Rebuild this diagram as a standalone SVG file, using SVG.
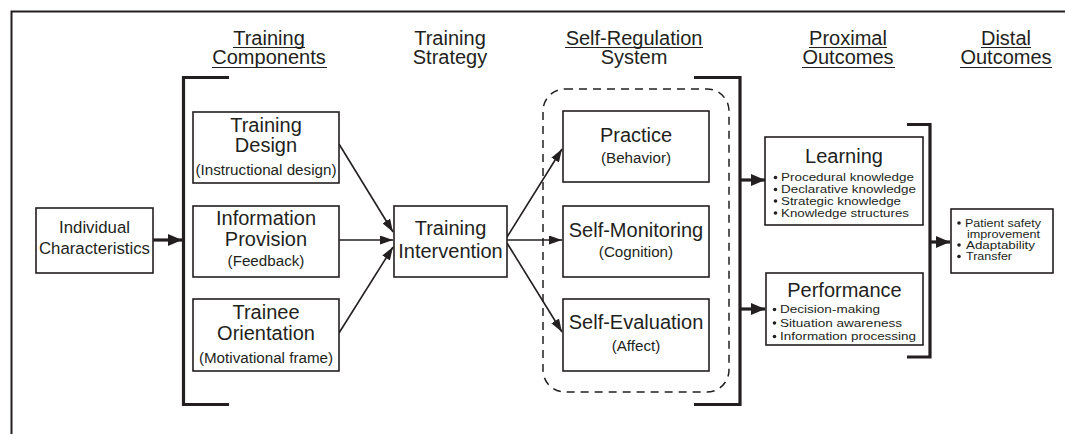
<svg xmlns="http://www.w3.org/2000/svg" width="1065" height="434" viewBox="0 0 1065 434">
<defs>
<style>
text{font-family:"Liberation Sans",Arial,sans-serif;fill:#231f20;text-anchor:middle}
.h{font-size:20px}
.t{font-size:20px}
.s{font-size:15.2px}
.b{font-size:10.6px;text-anchor:start}
.d{font-size:10px;text-anchor:start}
.box{fill:#fff;stroke:#231f20;stroke-width:1.6}
.ul{stroke:#231f20;stroke-width:1.2}
.br{fill:none;stroke:#231f20;stroke-width:3.2}
.ar{fill:none;stroke:#231f20;stroke-width:1.6;marker-end:url(#ah)}
.ak{fill:none;stroke:#231f20;stroke-width:3.2;marker-end:url(#ak)}
.dot{fill:#231f20}
</style>
<marker id="ah" markerUnits="userSpaceOnUse" markerWidth="13" markerHeight="9" refX="13" refY="4.5" orient="auto"><path d="M0,0 L13,4.5 L0,9 z" fill="#231f20"/></marker>
<marker id="ak" markerUnits="userSpaceOnUse" markerWidth="14" markerHeight="12" refX="14" refY="6" orient="auto"><path d="M0,0 L14,6 L0,12 z" fill="#231f20"/></marker>
</defs>
<rect width="1065" height="434" fill="#fff"/>
<path d="M11.5,434 V11.5 H1065" fill="none" stroke="#231f20" stroke-width="2"/>

<g id="headers">
<text class="h" x="269" y="45">Training</text>
<text class="h" x="269" y="64">Components</text>
<line class="ul" x1="233" y1="47.5" x2="305" y2="47.5"/>
<line class="ul" x1="212" y1="67.5" x2="327" y2="67.5"/>
<text class="h" x="450" y="45">Training</text>
<text class="h" x="450" y="64">Strategy</text>
<text class="h" x="634" y="45">Self-Regulation</text>
<text class="h" x="634" y="64">System</text>
<line class="ul" x1="565" y1="47.5" x2="703" y2="47.5"/>
<text class="h" x="848" y="45">Proximal</text>
<text class="h" x="848" y="64">Outcomes</text>
<line class="ul" x1="809" y1="47.5" x2="887" y2="47.5"/>
<line class="ul" x1="802" y1="67.5" x2="895" y2="67.5"/>
<text class="h" x="1006" y="45">Distal</text>
<text class="h" x="1006" y="64">Outcomes</text>
<line class="ul" x1="981" y1="47.5" x2="1031" y2="47.5"/>
<line class="ul" x1="960" y1="67.5" x2="1052" y2="67.5"/>
</g>

<g id="brackets">
<path class="br" d="M229,77.5 H183.5 V404.5 H229"/>
<path class="br" d="M694,77.5 H740 V404.5 H694"/>
<path class="br" d="M907,124.5 H930 V357 H907"/>
<rect x="543" y="89" width="186" height="303" rx="22" fill="none" stroke="#231f20" stroke-width="1.5" stroke-dasharray="8,6"/>
</g>

<g id="connectors">
<path class="ak" d="M153,240 H182"/>
<path class="ar" d="M339,144 L393,232"/>
<path class="ar" d="M339,240 L393,240"/>
<path class="ar" d="M339,333 L393,247"/>
<path class="ar" d="M507,237 L562,149"/>
<path class="ar" d="M507,240 L562,240"/>
<path class="ar" d="M507,243 L562,332"/>
<path class="ak" d="M741,180 H765"/>
<path class="ak" d="M741,309 H765"/>
<path class="ak" d="M931,242 H950"/>
</g>

<g id="individual">
<rect class="box" x="36" y="208" width="117" height="65"/>
<text class="s" x="94.5" y="233" style="font-size:16.8px">Individual</text>
<text class="s" x="94.5" y="254" style="font-size:16.8px">Characteristics</text>
</g>

<g id="training-design">
<rect class="box" x="193" y="112" width="146" height="71"/>
<text class="t" x="266" y="132">Training</text>
<text class="t" x="266" y="152">Design</text>
<text class="s" x="266" y="175">(Instructional design)</text>
</g>

<g id="information-provision">
<rect class="box" x="193" y="206" width="146" height="71"/>
<text class="t" x="266" y="225">Information</text>
<text class="t" x="266" y="246">Provision</text>
<text class="s" x="266" y="266">(Feedback)</text>
</g>

<g id="trainee-orientation">
<rect class="box" x="193" y="299" width="146" height="72"/>
<text class="t" x="266" y="319">Trainee</text>
<text class="t" x="266" y="340">Orientation</text>
<text class="s" x="266" y="363">(Motivational frame)</text>
</g>

<g id="training-intervention">
<rect class="box" x="394" y="206" width="113" height="71"/>
<text class="t" x="450.5" y="235">Training</text>
<text class="t" x="450.5" y="258">Intervention</text>
</g>

<g id="practice">
<rect class="box" x="563" y="111" width="146" height="71"/>
<text class="t" x="636" y="142">Practice</text>
<text class="s" x="636" y="163">(Behavior)</text>
</g>

<g id="self-monitoring">
<rect class="box" x="563" y="206" width="146" height="71"/>
<text class="t" x="636" y="237">Self-Monitoring</text>
<text class="s" x="636" y="257">(Cognition)</text>
</g>

<g id="self-evaluation">
<rect class="box" x="563" y="299" width="146" height="72"/>
<text class="t" x="636" y="329">Self-Evaluation</text>
<text class="s" x="636" y="351">(Affect)</text>
</g>

<g id="learning">
<rect class="box" x="765" y="137" width="158" height="88"/>
<text class="t" x="844" y="163">Learning</text>
<circle class="dot" cx="775.5" cy="177.5" r="1.8"/>
<text class="b" x="781" y="181" textLength="133" lengthAdjust="spacingAndGlyphs">Procedural knowledge</text>
<circle class="dot" cx="775.5" cy="189.5" r="1.8"/>
<text class="b" x="781" y="193" textLength="135" lengthAdjust="spacingAndGlyphs">Declarative knowledge</text>
<circle class="dot" cx="775.5" cy="201" r="1.8"/>
<text class="b" x="781" y="204.5" textLength="120" lengthAdjust="spacingAndGlyphs">Strategic knowledge</text>
<circle class="dot" cx="775.5" cy="213" r="1.8"/>
<text class="b" x="781" y="216.5" textLength="128" lengthAdjust="spacingAndGlyphs">Knowledge structures</text>
</g>

<g id="performance">
<rect class="box" x="766" y="273" width="157" height="72"/>
<text class="t" x="844.5" y="297">Performance</text>
<circle class="dot" cx="774.5" cy="309.5" r="1.8"/>
<text class="b" x="780" y="313" textLength="100" lengthAdjust="spacingAndGlyphs">Decision-making</text>
<circle class="dot" cx="774.5" cy="323" r="1.8"/>
<text class="b" x="780" y="326.5" textLength="122" lengthAdjust="spacingAndGlyphs">Situation awareness</text>
<circle class="dot" cx="774.5" cy="336.5" r="1.8"/>
<text class="b" x="780" y="340" textLength="136" lengthAdjust="spacingAndGlyphs">Information processing</text>
</g>

<g id="distal">
<rect class="box" x="951" y="209" width="102" height="64"/>
<circle class="dot" cx="959" cy="223" r="1.8"/>
<text class="d" x="965" y="226.5" textLength="76" lengthAdjust="spacingAndGlyphs">Patient safety</text>
<text class="d" x="967" y="237.5" textLength="73" lengthAdjust="spacingAndGlyphs">improvement</text>
<circle class="dot" cx="959" cy="245" r="1.8"/>
<text class="d" x="966" y="248.5" textLength="69" lengthAdjust="spacingAndGlyphs">Adaptability</text>
<circle class="dot" cx="959" cy="256.5" r="1.8"/>
<text class="d" x="966" y="260" textLength="46" lengthAdjust="spacingAndGlyphs">Transfer</text>
</g>
</svg>
